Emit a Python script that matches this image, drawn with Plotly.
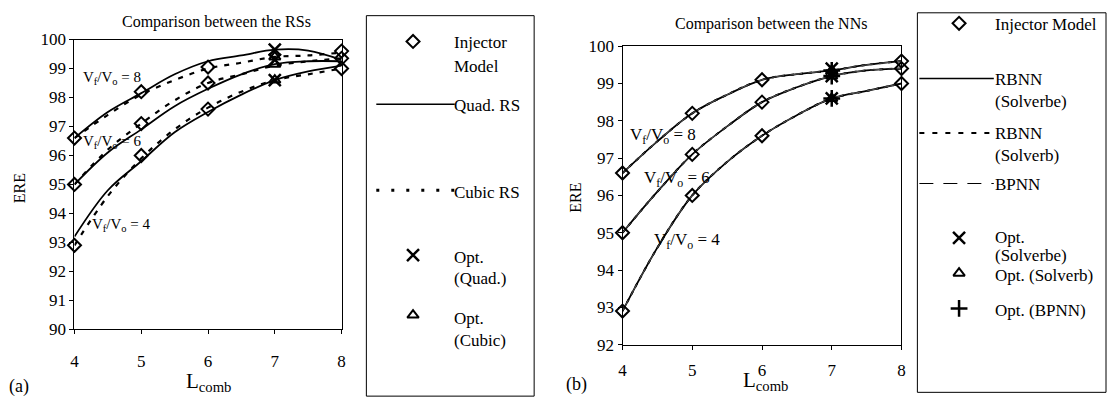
import plotly.graph_objects as go

W, H = 1111, 409
FONT = "Liberation Serif"

# ---------------- data ----------------
inj_x = [4, 5, 6, 8]
inj_a = {8: [96.6, 98.2, 99.05, 99.6], 6: [95.0, 97.1, 98.5, 99.35], 4: [92.9, 96.0, 97.6, 99.0]}
inj_b = {8: [96.6, 98.2, 99.1, 99.6], 6: [95.0, 97.1, 98.5, 99.4], 4: [92.9, 96.0, 97.6, 99.0]}

curve_x = [4, 4.5, 5, 5.5, 6, 6.5, 7, 7.5, 8]
quad_rs = {8: [96.6, 97.5, 98.15, 98.8, 99.25, 99.45, 99.65, 99.62, 99.3],
           6: [95.0, 96.1, 96.9, 97.7, 98.3, 98.8, 99.15, 99.25, 99.25],
           4: [93.2, 94.8, 95.8, 96.8, 97.5, 98.1, 98.6, 98.9, 99.1]}
cubic_rs = {8: [96.6, 97.4, 98.1, 98.6, 99.0, 99.2, 99.4, 99.45, 99.55],
            6: [95.0, 96.2, 97.1, 97.9, 98.5, 98.8, 99.1, 99.25, 99.35],
            4: [92.9, 94.6, 95.9, 96.9, 97.65, 98.2, 98.6, 98.8, 99.0]}
nn = {8: [96.6, 97.45, 98.2, 98.7, 99.1, 99.25, 99.35, 99.5, 99.6],
      6: [95.0, 96.1, 97.1, 97.85, 98.5, 98.9, 99.2, 99.35, 99.4],
      4: [92.9, 94.6, 96.0, 96.9, 97.6, 98.15, 98.6, 98.8, 99.0]}

opt_x = [7, 7, 7]
opt_quad = [99.65, 99.3, 98.6]
opt_cubic = [99.4, 99.15, 98.6]
opt_solverbe = [99.4, 99.2, 98.6]
opt_solverb = [99.35, 99.2, 98.6]
opt_bpnn = [99.35, 99.2, 98.6]

fig = go.Figure()

def add(x, y, xa, ya, **kw):
    fig.add_trace(go.Scatter(x=x, y=y, xaxis=xa, yaxis=ya, showlegend=False, hoverinfo="skip",
                             cliponaxis=False, **kw))

K = "black"
DIA = dict(symbol="diamond-open", size=10, color=K, line=dict(width=2, color=K))
XM = dict(symbol="x-thin-open", size=12, color=K, line=dict(width=2.5, color=K))
TRI = dict(symbol="triangle-up-open", size=10, color=K, line=dict(width=2, color=K))
PLUS = dict(symbol="cross-thin-open", size=12, color=K, line=dict(width=2.5, color=K))

# Left panel
for r in (8, 6, 4):
    add(curve_x, quad_rs[r], "x", "y", mode="lines", line=dict(color=K, width=1.8, shape="spline"))
    add(curve_x, cubic_rs[r], "x", "y", mode="lines", line=dict(color=K, width=2.2, dash="5px,7px", shape="spline"))
    add(inj_x, inj_a[r], "x", "y", mode="markers", marker=DIA)
add(opt_x, opt_quad, "x", "y", mode="markers", marker=XM)
add(opt_x, opt_cubic, "x", "y", mode="markers", marker=TRI)

# Right panel
for r in (8, 6, 4):
    add(curve_x, nn[r], "x2", "y2", mode="lines", line=dict(color=K, width=1.8, shape="spline"))
    add(curve_x, nn[r], "x2", "y2", mode="lines", line=dict(color=K, width=2, dash="4px,5px", shape="spline"))
    add(curve_x, nn[r], "x2", "y2", mode="lines", line=dict(color="#555", width=1, dash="12px,6px", shape="spline"))
    add(inj_x, inj_b[r], "x2", "y2", mode="markers", marker=DIA)
add(opt_x, opt_solverbe, "x2", "y2", mode="markers", marker=XM)
add(opt_x, opt_solverb, "x2", "y2", mode="markers", marker=TRI)
add(opt_x, opt_bpnn, "x2", "y2", mode="markers", marker=PLUS)

# ---------------- legend samples (pixel overlay axis) ----------------
def lg_marker(px, py, m):
    add([px], [py], "x3", "y3", mode="markers", marker=m)

def lg_line(x0, x1, py, line):
    add([x0, x1], [py, py], "x3", "y3", mode="lines", line=line)

lg_marker(412, 34, DIA)
lg_line(375, 454, 100, dict(color=K, width=1.5))
lg_line(375, 454, 190, dict(color=K, width=3, dash="3px,12px"))
lg_marker(412, 258, XM)
lg_marker(412, 321, TRI)

lg_marker(962, 15, DIA)
lg_line(922, 997, 73, dict(color=K, width=1.5))
lg_line(922, 997, 130, dict(color=K, width=2, dash="5px,8px"))
lg_line(922, 997, 183, dict(color=K, width=1, dash="14px,10px"))
lg_marker(962, 240, XM)
lg_marker(962, 277, TRI)
lg_marker(962, 314, PLUS)

ann = []
def txt(px, py, s, size=17, xanchor="left", **kw):
    ann.append(dict(x=px, y=py, xref="x3", yref="y3", text=s, showarrow=False,
                    xanchor=xanchor, yanchor="middle", font=dict(family=FONT, size=size, color=K), **kw))

# left legend text
txt(451, 35, "Injector")
txt(451, 60, "Model")
txt(451, 101, "Quad. RS")
txt(451, 192, "Cubic RS")
txt(451, 261, "Opt.")
txt(451, 283, "(Quad.)")
txt(451, 325, "Opt.")
txt(451, 348, "(Cubic)")
# right legend text
txt(996, 16, "Injector Model")
txt(996, 74, "RBNN")
txt(996, 97, "(Solverbe)")
txt(996, 131, "RBNN")
txt(996, 154, "(Solverb)")
txt(996, 184, "BPNN")
txt(996, 240, "Opt.")
txt(996, 259, "(Solverbe)")
txt(996, 279, "Opt. (Solverb)")
txt(996, 316, "Opt. (BPNN)")

# titles and labels
txt(214, 14, "Comparison between the RSs", size=16, xanchor="center")
txt(773, 16, "Comparison between the NNs", size=16, xanchor="center")
txt(206, 391, "L<sub>comb</sub>", size=21, xanchor="center")
txt(767, 390, "L<sub>comb</sub>", size=21, xanchor="center")
txt(3, 396, "(a)", size=18)
txt(564, 394, "(b)", size=18)
txt(15, 188, "ERE", size=16, xanchor="center", textangle=-90)
txt(576, 198, "ERE", size=16, xanchor="center", textangle=-90)

# curve labels
txt(78, 72, "V<sub>f</sub>/V<sub>o</sub> = 8", size=15)
txt(78, 139, "V<sub>f</sub>/V<sub>o</sub> = 6", size=15)
txt(87, 226, "V<sub>f</sub>/V<sub>o</sub> = 4", size=15)
txt(629, 133, "V<sub>f</sub>/V<sub>o</sub> = 8", size=17)
txt(643, 178, "V<sub>f</sub>/V<sub>o</sub> = 6", size=17)
txt(653, 243, "V<sub>f</sub>/V<sub>o</sub> = 4", size=17)

shapes = [
    dict(type="rect", xref="x3", yref="y3", x0=365, x1=534, y0=7, y1=406, line=dict(color=K, width=1)),
    dict(type="rect", xref="x3", yref="y3", x0=920, x1=1110, y0=4, y1=402, line=dict(color=K, width=1)),
]

ax_common = dict(showgrid=False, zeroline=False, showline=True, linecolor=K, linewidth=1, mirror=True,
                 ticks="outside", ticklen=4, tickcolor=K,
                 tickfont=dict(family=FONT, size=17, color=K))

fig.update_layout(
    width=W, height=H, margin=dict(l=0, r=0, t=0, b=0),
    paper_bgcolor="white", plot_bgcolor="rgba(0,0,0,0)",
    showlegend=False,
    xaxis=dict(domain=[71 / W, 340 / W], range=[4, 8], dtick=1, anchor="y", ticklabelstandoff=12, **ax_common),
    yaxis=dict(domain=[1 - 336 / H, 1 - 32 / H], range=[90, 100], dtick=1, anchor="x", **ax_common),
    xaxis2=dict(domain=[623 / W, 904 / W], range=[4, 8], dtick=1, anchor="y2", ticklabelstandoff=6, **ax_common),
    yaxis2=dict(domain=[1 - 352 / H, 1 - 39 / H], range=[92, 100], dtick=1, anchor="x2", **ax_common),
    xaxis3=dict(domain=[0, 1], range=[0, W], visible=False, anchor="y3", fixedrange=True),
    yaxis3=dict(domain=[0, 1], range=[H, 0], visible=False, anchor="x3", fixedrange=True),
    annotations=ann, shapes=shapes,
)

fig.write_html("out.html")
